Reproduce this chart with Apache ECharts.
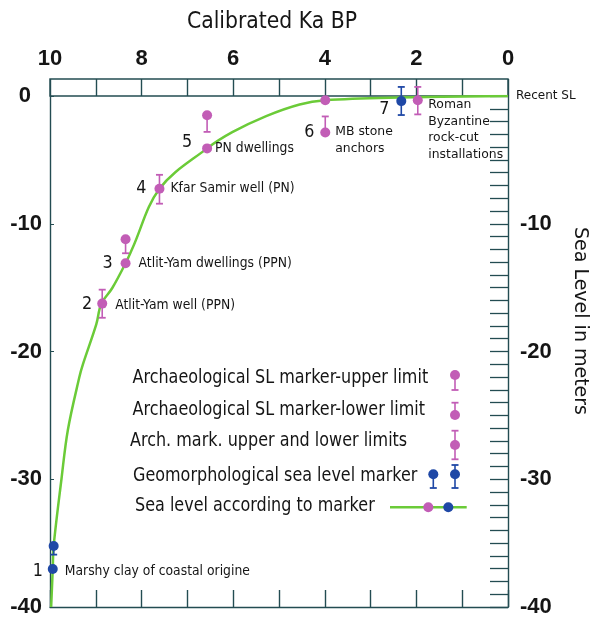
<!DOCTYPE html>
<html><head><meta charset="utf-8">
<script src="https://cdn.jsdelivr.net/npm/echarts@6/dist/echarts.min.js"></script>
<style>html,body{margin:0;padding:0;background:#fff}#c{width:590px;height:618px}</style>
</head><body><div id="c"></div>
<script>
// ---------- data ----------
const xTickLabels = [10, 8, 6, 4, 2, 0];
const yTickLabels = [0, -10, -20, -30, -40];

// sea-level curve (ka BP, m)
const curveKa = [9.975, 9.94, 9.92, 9.75, 9.61, 9.36, 9.28, 8.99, 8.88, 8.64, 8.35, 8.20, 7.61, 6.57, 6.02, 5.28, 4.55, 3.99, 2.37, 0];
const curveSL = [-40.0, -37.03, -35.22, -30.0, -26.14, -22.02, -20.99, -17.88, -16.27, -15.03, -13.09, -11.92, -7.26, -4.10, -2.83, -1.57, -0.66, -0.33, -0.12, 0];

// archaeological marker - upper limit (circle = limit, bar downward)
const upperKa = [6.57, 8.35];
const upperSL = [-1.51, -11.22];
const upperBarEnd = [-2.81, -12.31];
// archaeological marker - lower limit (circle = limit, bar upward)
const lowerKa = [3.99];
const lowerSL = [-2.86];
const lowerBarEnd = [-1.60];
// archaeological marker - upper and lower limits
const bothKa = [7.61, 8.86, 1.97];
const bothSL = [-7.26, -16.25, -0.33];
const bothHi = [-6.17, -15.16, 0.71];
const bothLo = [-8.43, -17.36, -1.44];
// geomorphological markers
const geoKa = [2.33, 9.92];
const geoSL = [-0.40, -35.22];
const geoHi = [0.71, -35.22];
const geoLo = [-1.49, -35.90];
// sea level according to marker
const slMagKa = [3.99, 6.57, 8.35];
const slMagSL = [-0.33, -4.10, -13.09];
const slBlueKa = [9.94];
const slBlueSL = [-37.03];

// annotations
const annoNum = ['1', '2', '3', '4', '5', '6', '7'];
const annoName = ['Marshy clay of coastal origine', 'Atlit-Yam well (PPN)', 'Atlit-Yam dwellings (PPN)',
  'Kfar Samir well (PN)', 'PN dwellings', 'MB stone\nanchors', 'Roman\nByzantine\nrock-cut\ninstallations'];
const annoKa = [9.94, 8.86, 8.35, 7.61, 6.57, 3.99, 2.33];
const annoSL = [-37.03, -16.25, -13.09, -7.26, -4.10, -2.86, -0.40];

const legendLabels = ['Archaeological SL marker-upper limit', 'Archaeological SL marker-lower limit',
  'Arch. mark. upper and lower limits', 'Geomorphological sea level marker', 'Sea level according to marker'];

// ---------- styles ----------
const MAG = '#c25db6', BLUE = '#1f48a6', GREEN = '#6bcb38', AX = '#234c52', TXT = '#151515';
const FONT = 'DejaVu Sans';
const numOffset = [[-15, 2], [-15, 1], [-18, 0], [-18, 0], [-20, -6], [-16, 0], [-17, 8]];
const nameOffset = [[12, 2], [13, 1.5], [13, 0], [11, 0], [8, 0], [10, -9], [27, -5]];
const nameTop = [false, false, false, false, false, true, true];

function zip(a, b) { return a.map((v, i) => [v, b[i]]); }

function capShape(x, y, color) {
  return { type: 'line', shape: { x1: x - 3.5, y1: y, x2: x + 3.5, y2: y }, style: { stroke: color, lineWidth: 1.8 } };
}
function errBar(params, api) {
  const ka = api.value(0), sl = api.value(1), hi = api.value(2), lo = api.value(3);
  const pHi = api.coord([ka, hi]), pLo = api.coord([ka, lo]);
  const color = api.visual('color');
  const ch = [{ type: 'line', shape: { x1: pHi[0], y1: pHi[1], x2: pLo[0], y2: pLo[1] }, style: { stroke: color, lineWidth: 1.6 } }];
  if (hi !== sl) ch.push(capShape(pHi[0], pHi[1], color));
  if (lo !== sl) ch.push(capShape(pLo[0], pLo[1], color));
  return { type: 'group', children: ch };
}

const upperData = upperKa.map((k, i) => [k, upperSL[i], upperSL[i], upperBarEnd[i]]);
const lowerData = lowerKa.map((k, i) => [k, lowerSL[i], lowerBarEnd[i], lowerSL[i]]);
const bothData = bothKa.map((k, i) => [k, bothSL[i], bothHi[i], bothLo[i]]);
const geoData = geoKa.map((k, i) => [k, geoSL[i], geoHi[i], geoLo[i]]);
const annoData = annoKa.map((k, i) => [k, annoSL[i], i]);

function annoItem(params, api) {
  const i = api.value(2);
  const p = api.coord([api.value(0), api.value(1)]);
  return {
    type: 'group', children: [
      { type: 'text', x: p[0] + numOffset[i][0], y: p[1] + numOffset[i][1], scaleY: 1.1,
        style: { text: annoNum[i], font: '16px ' + FONT, fill: TXT, align: 'center', verticalAlign: 'middle' } },
      { type: 'text', x: p[0] + nameOffset[i][0], y: p[1] + nameOffset[i][1], scaleY: nameTop[i] ? 1 : 1.15,
        style: { text: annoName[i], font: '12.4px ' + FONT, fill: TXT, align: 'left',
          verticalAlign: nameTop[i] ? 'top' : 'middle', lineHeight: 16.8 } }
    ]
  };
}

// legend glyphs (pixel layout)
function circ(x, y, c) { return { type: 'circle', shape: { cx: x, cy: y, r: 5 }, style: { fill: c } }; }
function vline(x, y1, y2, c) { return { type: 'line', shape: { x1: x, y1: y1, x2: x, y2: y2 }, style: { stroke: c, lineWidth: 1.6 } }; }
const legendRowY = [378, 410, 441, 476.5, 506.5];
const legendX = [132.5, 132.5, 130, 133, 135];
const legendGraphics = [];
legendLabels.forEach((t, i) => legendGraphics.push({ type: 'text', x: legendX[i], y: legendRowY[i], scaleY: 1.18,
  style: { text: t, font: '16px ' + FONT, fill: TXT, verticalAlign: 'middle' } }));
legendGraphics.push(
  vline(455, 375, 390, MAG), capShape(455, 390, MAG), circ(455, 375, MAG),
  vline(455, 415, 402.7, MAG), capShape(455, 402.7, MAG), circ(455, 415, MAG),
  vline(455, 430.7, 459.3, MAG), capShape(455, 430.7, MAG), capShape(455, 459.3, MAG), circ(455, 445, MAG),
  vline(433.3, 474.3, 488, BLUE), capShape(433.3, 488, BLUE), circ(433.3, 474.3, BLUE),
  vline(455, 465, 488, BLUE), capShape(455, 465, BLUE), capShape(455, 488, BLUE), circ(455, 474.3, BLUE),
  { type: 'line', shape: { x1: 390, y1: 507.3, x2: 466.7, y2: 507.3 }, style: { stroke: GREEN, lineWidth: 2.5 } },
  circ(428.3, 507.3, MAG), circ(448.3, 507.3, BLUE)
);

const chart = echarts.init(document.getElementById('c'), null, { renderer: 'canvas' });
chart.setOption({
  animation: false,
  backgroundColor: '#fff',
  grid: [
    { left: 50, right: 82, top: 96, bottom: 7 },
    { left: 50, right: 82, top: 79, height: 17, show: true, borderColor: AX, borderWidth: 1.4, backgroundColor: 'transparent' }
  ],
  xAxis: [
    { gridIndex: 0, type: 'value', min: 0, max: 10, interval: 1, inverse: true, position: 'bottom',
      axisLine: { onZero: false, lineStyle: { color: AX, width: 1.4 } },
      axisTick: { inside: true, length: 17, lineStyle: { color: AX, width: 1.4 } },
      axisLabel: { show: false }, splitLine: { show: false } },
    { gridIndex: 1, type: 'value', min: 0, max: 10, interval: 1, inverse: true, position: 'top',
      axisLine: { show: false, onZero: false }, axisTick: { show: false },
      splitLine: { show: true, lineStyle: { color: AX, width: 1.4 } },
      axisLabel: { margin: 9, color: TXT, fontFamily: 'Liberation Sans', fontWeight: 'bold', fontSize: 22,
        formatter: v => xTickLabels.indexOf(v) >= 0 ? String(v) : '' } }
  ],
  yAxis: [
    { gridIndex: 0, type: 'value', min: -40, max: 0, interval: 10, position: 'left',
      axisLine: { show: true, onZero: false, lineStyle: { color: AX, width: 1.4 } },
      axisTick: { show: true, inside: true, length: 4, lineStyle: { color: AX } },
      splitLine: { show: false },
      axisLabel: { margin: 8, formatter: v => yTickLabels.indexOf(v) >= 0 ? (v === 0 ? '{z|0}' : '{n|' + v + '}') : '',
        rich: { n: { color: TXT, fontFamily: 'Liberation Sans', fontWeight: 'bold', fontSize: 22 },
                z: { color: TXT, fontFamily: 'Liberation Sans', fontWeight: 'bold', fontSize: 22, padding: [0, 11, 0, 0] } } } },
    { gridIndex: 0, type: 'value', min: -40, max: 0, interval: 10, position: 'right',
      axisLine: { show: true, onZero: false, lineStyle: { color: AX, width: 1.4 } },
      axisTick: { show: true, inside: true, length: 18, lineStyle: { color: AX, width: 1.3 } },
      minorTick: { show: true, splitNumber: 10, length: 18, lineStyle: { color: AX, width: 1.3 } },
      splitLine: { show: false },
      axisLabel: { margin: 8, formatter: v => v === 0 ? '{r|Recent SL}' : (yTickLabels.indexOf(v) >= 0 ? '{n|' + v + '}' : ''),
        rich: { n: { color: TXT, fontFamily: 'Liberation Sans', fontWeight: 'bold', fontSize: 22, padding: [0, 0, 0, 4] },
                r: { color: TXT, fontFamily: FONT, fontSize: 12 } } } },
    { gridIndex: 1, type: 'value', min: 0, max: 1, show: false }
  ],
  graphic: [
    { type: 'text', x: 272, y: 22, scaleY: 1.12, style: { text: 'Calibrated Ka BP', font: '20.4px ' + FONT, fill: TXT, align: 'center', verticalAlign: 'middle' } },
    { type: 'text', x: 580, y: 321, rotation: -Math.PI / 2, style: { text: 'Sea Level in meters', font: '19px ' + FONT, fill: TXT, align: 'center', verticalAlign: 'middle' } }
  ].concat(legendGraphics),
  series: [
    { type: 'line', name: 'Sea level', data: zip(curveKa, curveSL), smooth: 0.35, symbol: 'none',
      lineStyle: { color: GREEN, width: 2.5 }, z: 2 },
    { type: 'custom', name: 'upper bars', data: upperData, renderItem: errBar, itemStyle: { color: MAG }, clip: false, z: 3 },
    { type: 'custom', name: 'lower bars', data: lowerData, renderItem: errBar, itemStyle: { color: MAG }, clip: false, z: 3 },
    { type: 'custom', name: 'both bars', data: bothData, renderItem: errBar, itemStyle: { color: MAG }, clip: false, z: 3 },
    { type: 'custom', name: 'geo bars', data: geoData, renderItem: errBar, itemStyle: { color: BLUE }, clip: false, z: 3 },
    { type: 'scatter', name: 'arch markers', data: zip(upperKa, upperSL).concat(zip(lowerKa, lowerSL), zip(bothKa, bothSL), zip(slMagKa, slMagSL)),
      symbolSize: 10, itemStyle: { color: MAG, opacity: 1 }, z: 4 },
    { type: 'scatter', name: 'geo markers', data: zip(geoKa, geoSL).concat(zip(slBlueKa, slBlueSL)),
      symbolSize: 10, itemStyle: { color: BLUE, opacity: 1 }, z: 4 },
    { type: 'custom', name: 'annotations', data: annoData, renderItem: annoItem, clip: false, z: 5, silent: true }
  ]
});
</script></body></html>
